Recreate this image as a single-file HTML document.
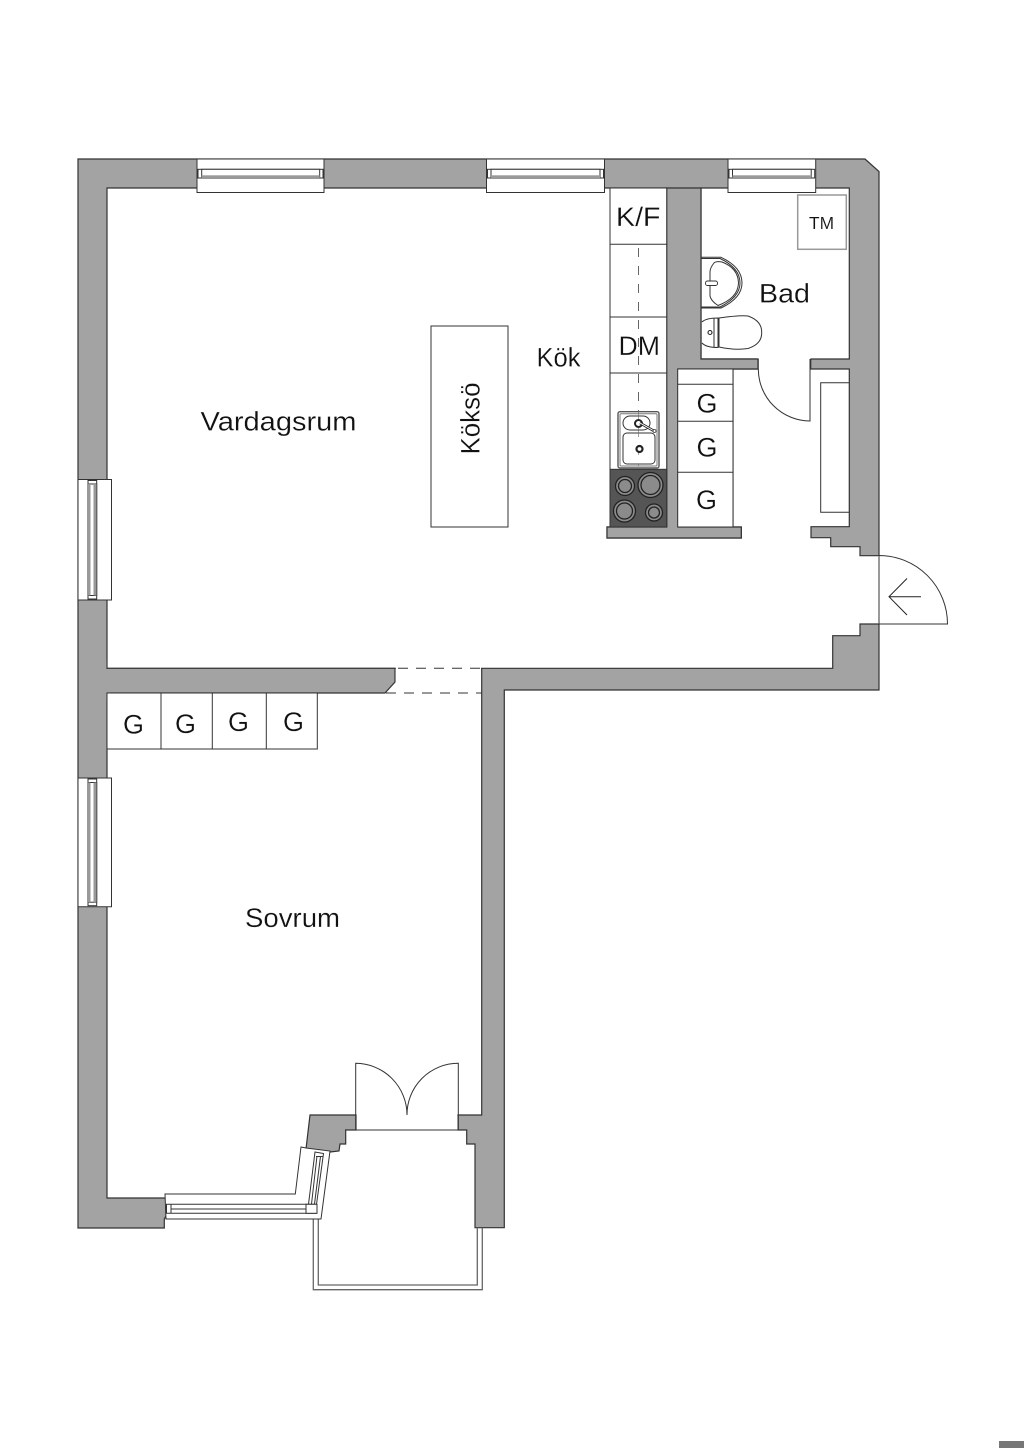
<!DOCTYPE html>
<html>
<head>
<meta charset="utf-8">
<style>
html,body{margin:0;padding:0;background:#fff;width:1024px;height:1448px;overflow:hidden}
svg{display:block}
.w{fill:#a3a3a3;stroke:#333;stroke-width:1.200;stroke-linejoin:miter}
.l{fill:none;stroke:#333;stroke-width:1}
.b{fill:#fff;stroke:#333;stroke-width:1}
.g{fill:#999;stroke:none}
text{font-family:"Liberation Sans",sans-serif;font-size:27px;fill:#111;stroke:#fff;stroke-width:.2}
</style>
</head>
<body>
<svg width="1024" height="1448" viewBox="0 0 1024 1448" xmlns="http://www.w3.org/2000/svg">
<rect width="1024" height="1448" fill="#fff"/>
<rect x="999" y="1441" width="25" height="7" fill="#777"/>

<!-- Main wall -->
<path class="w" d="M78,159H865L879,171.500V690H504.300V1227.700H475V1144H466.700V1130H458V1115H481.700V668.300H107V1198H166V1216L164.300,1219V1228H78Z"/>
<!-- Interior -->
<path d="M107,188H666.700V527H607V538H741.300V527H733V369H758V359H701V188H849.300V359H810.700V369H849.300V526.700H811V537.700H830.700V546.700H860V555.700H879V624H860V635.700H832.700V668.300H107Z" fill="#fff" stroke="#333" stroke-width="1.200"/>
<!-- Wall between kitchen and bath -->
<path class="w" d="M666.700,188H701V359H758V369H678V527H741.300V538H607V527H666.700Z"/>
<rect x="677.700" y="369" width="55.300" height="158" class="b"/>
<path class="l" d="M677.700,384.300H733M677.700,421.300H733M677.700,472.300H733"/>
<!-- Divider wall -->
<path class="w" d="M107,668.300H395V682L385,693H107Z"/>
<rect x="79" y="660" width="27.400" height="40" fill="#a3a3a3"/>
<rect x="102" y="669" width="8" height="23.400" fill="#a3a3a3"/>
<path class="l" d="M107,660V668.300"/>
<!-- Clear solid line in the doorway, then dashes -->
<rect x="395.800" y="666" width="85.200" height="26" fill="#fff"/>
<path d="M398,668.300H481.700M386,693H481.700" fill="none" stroke="#333" stroke-width="1" stroke-dasharray="10 8"/>

<!-- Entrance closet -->
<path class="l" d="M849.300,382.700H820.700V512.300H849.300"/>

<!-- Bad door -->
<rect x="758.500" y="358.500" width="52" height="11" fill="#fff"/>
<path class="l" d="M758.300,359V369A52,52 0 0 0 810,421V359"/>

<!-- Entrance door -->
<rect x="878" y="556" width="3" height="68" fill="#fff"/>
<path class="l" d="M879,555.500V624M879,555.500A68.500,68.500 0 0 1 947.500,624H860"/>
<path d="M921,596.700H889M907,578.500L889,596.700L907,615" fill="none" stroke="#222" stroke-width="1"/>

<!-- Top windows -->
<g>
<rect class="b" x="197" y="159" width="127" height="33.500"/>
<rect class="b" x="198" y="169.300" width="125" height="8.700"/>
<rect class="b" x="201.700" y="169.300" width="118" height="8.700"/>
<rect class="g" x="201.700" y="175.300" width="118" height="2.700"/>
<rect class="b" x="486.500" y="159" width="118" height="33.500"/>
<rect class="b" x="487.500" y="169.300" width="116" height="8.700"/>
<rect class="b" x="491" y="169.300" width="109" height="8.700"/>
<rect class="g" x="491" y="175.300" width="109" height="2.700"/>
<rect class="b" x="728" y="159" width="87.700" height="33.500"/>
<rect class="b" x="729" y="169.300" width="85.700" height="8.700"/>
<rect class="b" x="732.500" y="169.300" width="78.700" height="8.700"/>
<rect class="g" x="732.500" y="175.300" width="78.700" height="2.700"/>
</g>

<!-- Left windows -->
<g>
<path class="b" d="M78,479.500H111.500V600H78Z"/>
<rect class="b" x="88" y="480.500" width="8.700" height="118.500"/>
<rect class="b" x="88" y="484" width="8.700" height="111.500"/>
<rect class="g" x="88" y="484" width="2.500" height="111.500"/>
<rect class="g" x="93.500" y="484" width="3" height="111.500"/>
<path class="b" d="M78,778H111.500V906.700H78Z"/>
<rect class="b" x="88" y="779" width="8.700" height="126.700"/>
<rect class="b" x="88" y="782.500" width="8.700" height="119.700"/>
<rect class="g" x="88" y="782.500" width="2.500" height="119.700"/>
<rect class="g" x="93.500" y="782.500" width="3" height="119.700"/>
</g>

<!-- Sovrum closets -->
<rect class="b" x="107" y="693" width="210.300" height="56"/>
<path class="l" d="M161,693V749M212.300,693V749M266.300,693V749"/>

<!-- Island -->
<rect class="b" x="431" y="326" width="77" height="201"/>

<!-- Kitchen counter -->
<rect class="b" x="610" y="188" width="56.700" height="339"/>
<path class="l" d="M610,244.300H666.700M610,317H666.700M610,373H666.700"/>
<path d="M638.500,248V466" fill="none" stroke="#666" stroke-width="1" stroke-dasharray="9 9"/>
<rect x="610" y="469.300" width="56.700" height="57.700" fill="#555" stroke="#333"/>
<g fill="#8b8b8b" stroke="#222" stroke-width="1.300">
<circle cx="625" cy="486" r="9.500"/><circle cx="625" cy="486" r="6.500" fill="#8b8b8b"/>
<circle cx="650.500" cy="485" r="12.500"/><circle cx="650.500" cy="485" r="9.500"/>
<circle cx="624.500" cy="511" r="11"/><circle cx="624.500" cy="511" r="8"/>
<circle cx="654" cy="512.500" r="8.500"/><circle cx="654" cy="512.500" r="5.500"/>
</g>
<!-- Sink -->
<rect x="618" y="411.700" width="41" height="56.300" rx="2" fill="#fff" stroke="#555" stroke-width="1.400"/>
<rect x="620" y="413.700" width="37" height="52.300" rx="1" fill="#fff" stroke="#777" stroke-width="1"/>
<rect x="623" y="416" width="27" height="14" rx="7" fill="#fff" stroke="#333"/>
<rect x="623" y="433" width="32" height="31" rx="4" fill="#fff" stroke="#333"/>
<path d="M638.500,248V466" fill="none" stroke="#666" stroke-width="1" stroke-dasharray="9 9" opacity=".6"/>
<circle cx="638.500" cy="423.500" r="3.500" fill="#fff" stroke="#222" stroke-width="2"/>
<circle cx="639.500" cy="449" r="3" fill="#fff" stroke="#222" stroke-width="2.200"/>
<path d="M640,423L654,431" stroke="#222" stroke-width="2.500" fill="none"/>
<path d="M640,423L654,431" stroke="#fff" stroke-width="1" fill="none"/>
<circle cx="654.500" cy="431" r="1.500" fill="#fff" stroke="#333" stroke-width=".8"/>

<!-- TM box -->
<rect x="797.700" y="195" width="48.600" height="54.300" fill="#fff" stroke="#999" stroke-width="1.500"/>

<!-- Basin -->
<path class="l" d="M701,257.300H721Q742,267 742,283Q742,298 721,308H701"/>
<path class="l" d="M701,258.500H720Q740,268 740,283Q740,297 720,307H701" stroke-width=".7"/>
<path class="l" d="M714,263Q710,268 710,272V296Q711,301 718,305.500Q738,298 738.500,283Q738,268 722,262Q716,261 714,263Z"/>
<rect x="705.500" y="281" width="12" height="4.500" rx="2" fill="#fff" stroke="#333" stroke-width=".9"/>
<!-- Toilet -->
<path class="b" d="M719,318Q740,315 748,316Q762,321 761.700,332.500Q762,344 748,348.500Q735,350.500 719,347Z"/>
<path class="b" d="M702,322Q706,318 718,318V347.500Q706,347.500 702,343"/>
<path class="l" d="M714,318V347.500"/>
<circle cx="710" cy="332.500" r="2" fill="#fff" stroke="#222" stroke-width="1.100"/>

<!-- Balcony -->
<path d="M313.300,1219V1289.700H482.300V1227.700M318.300,1219V1285H477.300V1227.700" fill="none" stroke="#666" stroke-width="1.300"/>

<!-- Balcony door wall pieces -->
<path class="w" d="M310,1115H356V1130H345.700V1144H340L339,1151L330,1152L306,1149Z"/>
<path class="l" d="M345,1130H466"/>
<path fill="#fff" d="M357,1116H457.500V1129.500H357Z"/>
<path class="l" d="M355.700,1130V1063.300A51.700,51.700 0 0 1 407,1115"/>
<path class="l" d="M458.300,1130V1063.300A51.300,51.300 0 0 0 407,1115"/>

<!-- Angled window -->
<path class="b" d="M165,1194H295.300L301,1147L306,1148L330,1151L321,1219H166Z"/>
<path class="b" d="M166.500,1204.300H316V1213.300H166.500Z"/>
<path class="l" d="M171,1204.300V1213.300M171,1209H306"/>
<path class="b" d="M315,1152L323.500,1153.500L316.500,1204.300H308.500Z"/>
<path class="l" d="M317,1156L311.500,1204M320.500,1156.500L314.500,1204M316,1156.500H322.500"/>
<rect class="b" x="306" y="1204.300" width="11" height="9"/>

<!-- Labels -->
<text x="616" y="226" textLength="44.500" lengthAdjust="spacingAndGlyphs">K/F</text>
<text x="618.500" y="355" textLength="41.500" lengthAdjust="spacingAndGlyphs">DM</text>
<text x="759" y="302.700" textLength="51" lengthAdjust="spacingAndGlyphs">Bad</text>
<text x="809" y="229" textLength="25" lengthAdjust="spacingAndGlyphs" style="font-size:17.500px;stroke-width:.1">TM</text>
<text x="536.500" y="366.700" textLength="44" lengthAdjust="spacingAndGlyphs">Kök</text>
<text x="200.500" y="430.700" textLength="156" lengthAdjust="spacingAndGlyphs">Vardagsrum</text>
<text x="245" y="927" textLength="95" lengthAdjust="spacingAndGlyphs">Sovrum</text>
<text transform="translate(479.500,454.500) rotate(-90)" x="0" y="0" textLength="72" lengthAdjust="spacingAndGlyphs">Köksö</text>
<text x="696.500" y="412.700">G</text>
<text x="696.500" y="456.700">G</text>
<text x="696" y="509">G</text>
<text x="123" y="733.300">G</text>
<text x="175" y="733">G</text>
<text x="228" y="731">G</text>
<text x="283" y="731">G</text>
</svg>
</body>
</html>
